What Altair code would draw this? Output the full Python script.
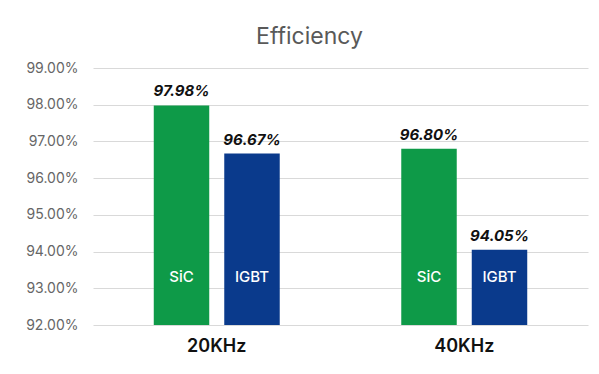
import altair as alt
import pandas as pd

freqs = ["20KHz", "40KHz"]
devices = ["SiC", "IGBT"]
sic_values = [97.98, 96.80]
igbt_values = [96.67, 94.05]
y_ticks = [92, 93, 94, 95, 96, 97, 98, 99]
colors = ["#0E9A48", "#0A3A8C"]

rows = []
for i, f in enumerate(freqs):
    rows.append({"freq": f, "device": "SiC", "value": sic_values[i]})
    rows.append({"freq": f, "device": "IGBT", "value": igbt_values[i]})
df = pd.DataFrame(rows)

FONT = "Inter"

x = alt.X("freq:N", sort=freqs, title=None,
          scale=alt.Scale(paddingInner=0, paddingOuter=0),
          axis=alt.Axis(labelAngle=0, labelFontSize=18, labelFontWeight=600,
                        labelColor="#111111", labelPadding=12, domain=False,
                        ticks=False, labelFont=FONT))
xo = alt.XOffset("device:N", sort=devices,
                 scale=alt.Scale(paddingInner=0.213, paddingOuter=0.862))
y_scale = alt.Scale(domain=[92, 99], zero=False, nice=False)
y_axis = alt.Axis(values=y_ticks, tickCount=8,
                  labelExpr="format(datum.value, '.2f') + '%'",
                  labelFontSize=14, labelColor="#666666", labelPadding=15,
                  labelOverlap=False, labelFlush=False,
                  domain=False, ticks=False, gridColor="#d9d9d9",
                  gridWidth=1.2, labelFont=FONT)
y = alt.Y("value:Q", title=None, scale=y_scale, axis=y_axis)

base = alt.Chart(df)

bars = base.mark_bar().encode(
    x=x, xOffset=xo, y=y, y2=alt.datum(92),
    color=alt.Color("device:N", sort=devices,
                    scale=alt.Scale(domain=devices, range=colors), legend=None),
)

vals = base.transform_calculate(
    lbl="format(datum.value, '.2f') + '%'"
).mark_text(fontSize=15, fontWeight="bold", fontStyle="italic", color="#111111",
            baseline="bottom", dy=-6, font=FONT).encode(
    x=x, xOffset=xo, y=y, text="lbl:N")

inner = base.transform_calculate(base_val="92").mark_text(
    fontSize=15, fontWeight=500, color="white",
    baseline="middle", dy=-48, font=FONT).encode(
    x=x, xOffset=xo,
    y=alt.Y("base_val:Q", title=None, scale=y_scale, axis=y_axis),
    text="device:N")

chart = alt.layer(bars, vals, inner).properties(
    width=495, height=257,
    title=alt.TitleParams("Efficiency", fontSize=23, fontWeight="normal",
                          color="#595959", font=FONT, frame="group",
                          anchor="middle", dx=-31, offset=12),
    autosize=alt.AutoSizeParams(type="none"),
    padding={"left": 85, "top": 60, "right": 3, "bottom": 30},
).configure_view(stroke=None)

chart.save("out.html", embed_options={"renderer": "svg", "actions": False})
